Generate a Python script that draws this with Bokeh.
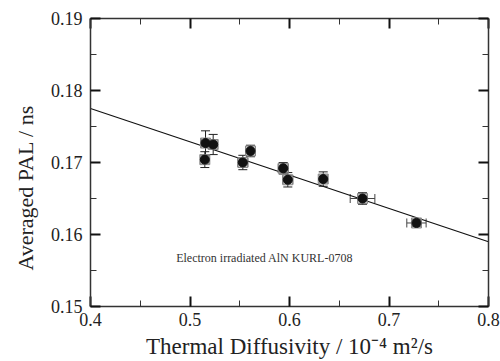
from bokeh.plotting import figure
from bokeh.models import (ColumnDataSource, Whisker, TeeHead, FixedTicker, LinearAxis,
                          PrintfTickFormatter, Label, Range1d, Title)
from bokeh.embed import file_html
from bokeh.resources import INLINE

# Data
diffusivity = [0.5156, 0.5233, 0.5149, 0.5531, 0.5608, 0.5937, 0.5983, 0.6339, 0.6734, 0.7276]
pal = [0.1727, 0.1725, 0.1704, 0.1700, 0.1716, 0.1692, 0.1676, 0.1677, 0.1650, 0.1616]
pal_err = [0.0017, 0.0014, 0.0011, 0.0010, 0.0008, 0.0008, 0.0010, 0.0010, 0.0008, 0.0005]
diff_err = [0.004, 0.004, 0.004, 0.005, 0.005, 0.005, 0.005, 0.004, 0.0124, 0.0097]
fit_x = [0.4, 0.8]
fit_y = [0.1775, 0.1590]
x_ticks = [0.4, 0.5, 0.6, 0.7, 0.8]
x_minor = [0.45, 0.55, 0.65, 0.75]
y_ticks = [0.15, 0.16, 0.17, 0.18, 0.19]
y_minor = [0.155, 0.165, 0.175, 0.185]
note = "Electron irradiated AlN KURL-0708"
x_title = "Thermal Diffusivity / 10\u207b\u2074 m\u00b2/s"
y_title = "Averaged PAL / ns"

FONT = "Liberation Serif"

src = ColumnDataSource(dict(
    x=diffusivity, y=pal,
    ylo=[v - e for v, e in zip(pal, pal_err)], yhi=[v + e for v, e in zip(pal, pal_err)],
    xlo=[v - e for v, e in zip(diffusivity, diff_err)], xhi=[v + e for v, e in zip(diffusivity, diff_err)],
))

p = figure(width=500, height=361, output_backend="svg", toolbar_location=None,
           x_range=Range1d(0.4, 0.8), y_range=Range1d(0.15, 0.19),
           min_border_left=90, min_border_right=12, min_border_top=18, min_border_bottom=55,
           x_axis_location=None, y_axis_location=None)
p.xgrid.visible = False
p.ygrid.visible = False
p.outline_line_color = None
p.background_fill_color = "white"
p.border_fill_color = "white"

xt = FixedTicker(ticks=x_ticks, minor_ticks=x_minor)
yt = FixedTicker(ticks=y_ticks, minor_ticks=y_minor)


def style(ax, show_labels):
    ax.major_tick_in = 10
    ax.major_tick_out = 0
    ax.minor_tick_in = 6
    ax.minor_tick_out = 0
    ax.major_tick_line_width = 2
    ax.major_tick_line_color = "#111111"
    ax.minor_tick_line_color = "#333333"
    ax.axis_line_color = "#333333"
    ax.axis_line_width = 1.5
    ax.major_label_text_font = FONT
    if show_labels:
        ax.major_label_text_color = "#222222"
        ax.major_label_text_font_size = "18px"
    else:
        ax.major_label_text_color = None
        ax.major_label_text_font_size = "1px"
    ax.axis_label_text_font = FONT
    ax.axis_label_text_font_style = "normal"
    ax.axis_label_text_color = "#222222"
    ax.axis_label_text_font_size = "23px"


xb = LinearAxis(ticker=xt, formatter=PrintfTickFormatter(format="%.1f"), axis_label=x_title)
style(xb, True)
xb.major_label_standoff = 6
xb.axis_label_standoff = 5
p.add_layout(xb, "below")

yl = LinearAxis(ticker=yt, formatter=PrintfTickFormatter(format="%.2f"))
style(yl, True)
yl.major_label_standoff = 8
p.add_layout(yl, "left")

xa = LinearAxis(ticker=xt)
style(xa, False)
xa.major_label_standoff = 0
p.add_layout(xa, "above")

yr = LinearAxis(ticker=yt)
style(yr, False)
yr.major_label_standoff = 0
p.add_layout(yr, "right")

# y title as a side title so it can sit lower than the frame centre, as in the reference
p.add_layout(Title(text=y_title, align="left", offset=36, standoff=19,
                   text_font=FONT, text_font_size="22px", text_font_style="normal",
                   text_color="#222222"), "left")

# fit line
p.line(fit_x, fit_y, line_color="#111111", line_width=1.2)

# error bars
p.add_layout(Whisker(source=src, base="x", lower="ylo", upper="yhi", dimension="height",
                     line_color="#222222", line_width=1,
                     lower_head=TeeHead(size=9, line_color="#222222", line_width=1),
                     upper_head=TeeHead(size=9, line_color="#222222", line_width=1)))
p.add_layout(Whisker(source=src, base="y", lower="xlo", upper="xhi", dimension="width",
                     line_color="#444444", line_width=1,
                     lower_head=TeeHead(size=9, line_color="#444444", line_width=1),
                     upper_head=TeeHead(size=9, line_color="#444444", line_width=1)))

# markers
p.scatter("x", "y", source=src, marker="square", size=10, fill_color="#9a9a9a",
          fill_alpha=0.6, line_color="#888888", line_width=1)
p.scatter("x", "y", source=src, marker="circle", size=9, fill_color="#111111",
          line_color="#111111")

p.add_layout(Label(x=0.575, y=0.1568, text=note, text_font=FONT, text_font_size="12px",
                   text_color="#333333", text_align="center", text_baseline="middle"))

open("out.html", "w").write(file_html(p, INLINE))
